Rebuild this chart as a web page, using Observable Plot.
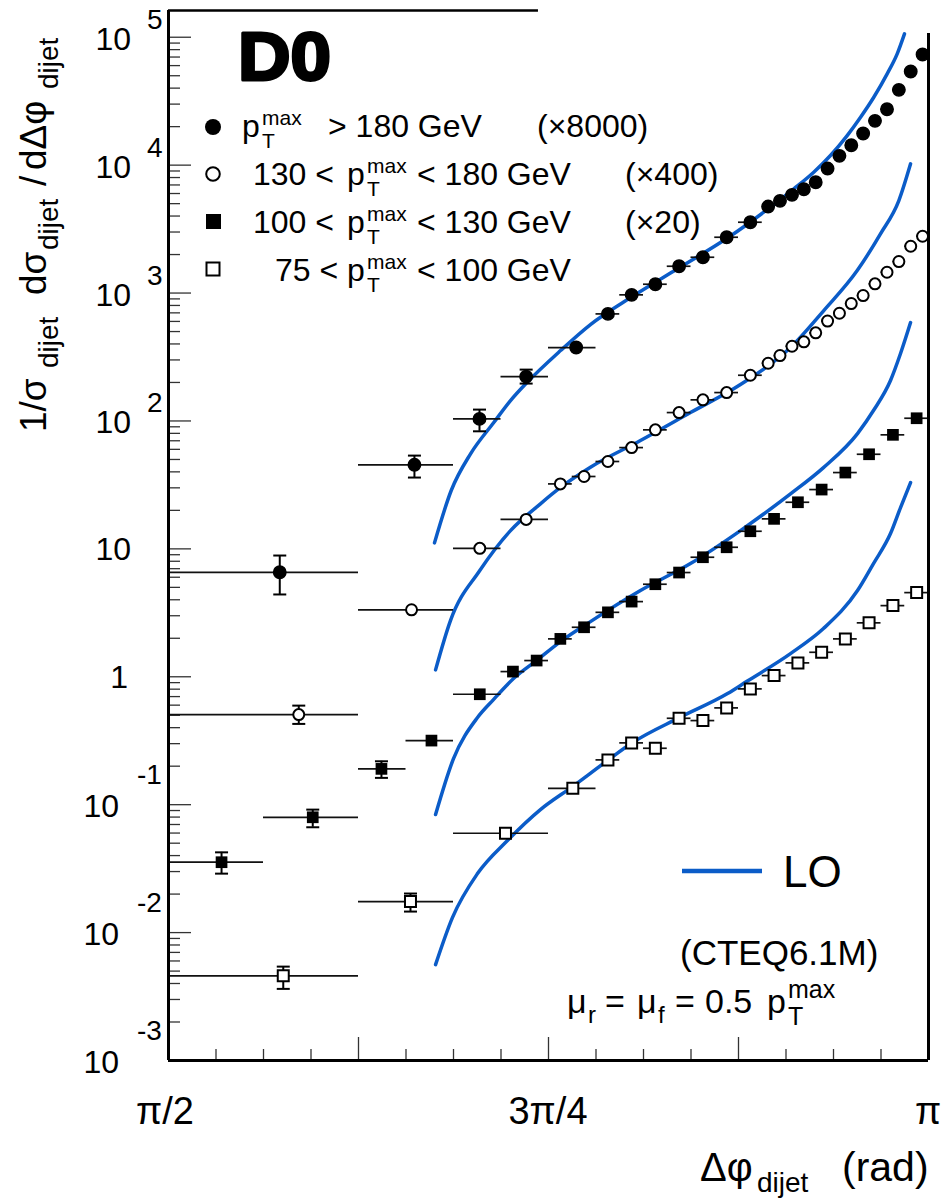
<!DOCTYPE html>
<html><head><meta charset="utf-8">
<script src="https://cdn.jsdelivr.net/npm/d3@7"></script>
<script src="https://cdn.jsdelivr.net/npm/@observablehq/plot@0.6"></script>
<style>body{margin:0;background:#fff}svg{display:block}</style>
</head><body><div id="chart"></div>
<script>
const PI = Math.PI;
// ---- Data (x positions and bin edges in units of pi) ----
// Series 1: pT > 180 GeV (x8000), filled circles
const s1Edges = [0.5,0.625,0.6875,0.71875,0.75,0.78125,0.796875,0.8125,0.828125,0.84375,0.859375,0.875,0.890625,0.8984375,0.90625,0.9140625,0.921875,0.9296875,0.9375,0.9453125,0.953125,0.9609375,0.96875,0.9765625,0.984375,0.9921875,1];
const s1X = [0.5732,0.6618,0.7046,0.7353,0.7682,0.7891,0.8047,0.8203,0.8359,0.8516,0.8672,0.8828,0.8945,0.9023,0.9102,0.9180,0.9258,0.9336,0.9414,0.9492,0.9570,0.9648,0.9727,0.9805,0.9883,0.9961];
const s1Y = [6.56,45.4,103.8,222,375,687,968,1172,1620,1905,2731,3578,4746,5259,5858,6480,7350,9406,11820,14310,17670,22200,27360,38790,53930,73230];
const s1Lo = [4.40,36.1,83.0,196];
const s1Hi = [8.87,53.6,122.7,252];
// Series 2: 130 < pT < 180 GeV (x400), open circles
const s2Edges = [0.5,0.625,0.6875,0.71875,0.75,0.765625,0.78125,0.796875,0.8125,0.828125,0.84375,0.859375,0.875,0.890625,0.8984375,0.90625,0.9140625,0.921875,0.9296875,0.9375,0.9453125,0.953125,0.9609375,0.96875,0.9765625,0.984375,0.9921875,1];
const s2X = [0.5857,0.6599,0.7048,0.7353,0.7578,0.7734,0.7891,0.8047,0.8203,0.8359,0.8516,0.8672,0.8828,0.8945,0.9023,0.9102,0.9180,0.9258,0.9336,0.9414,0.9492,0.9570,0.9648,0.9727,0.9805,0.9883,0.9961];
const s2Y = [0.506,3.34,10.1,17.0,32.2,36.8,48.2,61.9,85.2,116.3,146.2,166.7,227.7,282.6,324.6,383.7,415.3,488.5,604,695,828,956,1180,1454,1763,2322,2781];
const s2Lo = [0.428];
const s2Hi = [0.595];
// Series 3: 100 < pT < 130 GeV (x20), filled squares
const s3Edges = [0.5,0.5625,0.625,0.65625,0.6875,0.71875,0.734375,0.75,0.765625,0.78125,0.796875,0.8125,0.828125,0.84375,0.859375,0.875,0.890625,0.90625,0.921875,0.9375,0.953125,0.96875,0.984375,1];
const s3X = [0.5349,0.5949,0.6401,0.6730,0.7048,0.7266,0.7422,0.7578,0.7734,0.7891,0.8047,0.8203,0.8359,0.8516,0.8672,0.8828,0.8984,0.9141,0.9297,0.9453,0.9609,0.9766,0.9922];
const s3Y = [0.0355,0.0797,0.1905,0.317,0.730,1.098,1.339,1.978,2.438,3.19,3.87,5.29,6.53,8.60,10.29,13.73,17.16,23.14,29.08,39.5,54.9,77.9,105.0];
const s3Lo = [0.0289,0.0666,0.162];
const s3Hi = [0.0424,0.0915,0.2184];
// Series 4: 75 < pT < 100 GeV, open squares
const s4Edges = [0.5,0.625,0.6875,0.75,0.78125,0.796875,0.8125,0.828125,0.84375,0.859375,0.875,0.890625,0.90625,0.921875,0.9375,0.953125,0.96875,0.984375,1];
const s4X = [0.5755,0.6592,0.7217,0.7660,0.7891,0.8047,0.8203,0.8359,0.8516,0.8672,0.8828,0.8984,0.9141,0.9297,0.9453,0.9609,0.9766,0.9922];
const s4Y = [0.00459,0.01748,0.0598,0.1343,0.2240,0.3042,0.2761,0.4737,0.4545,0.5711,0.804,1.022,1.284,1.554,1.978,2.64,3.60,4.55];
const s4Lo = [0.00363,0.0146];
const s4Hi = [0.00542,0.0202];
// LO curves (x in units of pi)
const lo1X = [0.6750,0.6860,0.6987,0.7140,0.7250,0.7360,0.7579,0.7776,0.8051,0.8357,0.8682,0.8982,0.9114,0.9245,0.9355,0.9465,0.9553,0.9640,0.9728,0.9794,0.9842];
const lo1Y = [11.14,28.6,55.3,97.2,144.4,200.8,355,567,938.8,1569,2716,4919,6526,8802,11890,17030,23690,33950,51740,74180,106300];
const lo2X = [0.6757,0.6855,0.7048,0.7250,0.7447,0.7579,0.7776,0.8105,0.8434,0.8763,0.9092,0.9311,0.9531,0.9684,0.9805,0.9882];
const lo2Y = [1.132,2.75,6.77,13.9,22.5,30.2,43.5,70.3,116.3,192.6,374.9,729.8,1499,2904,5287,10240];
const lo3X = [0.6757,0.6875,0.7033,0.7138,0.7270,0.7421,0.7579,0.7776,0.8105,0.8434,0.8763,0.9092,0.9309,0.9533,0.9638,0.9750,0.9816,0.9882];
const lo3Y = [0.0837,0.229,0.480,0.663,0.968,1.339,1.884,2.70,4.72,7.67,13.9,26.9,43.2,79.7,120.6,207,336.5,588];
const lo4X = [0.6757,0.6868,0.7033,0.7230,0.7447,0.7658,0.7888,0.8053,0.8362,0.8678,0.8803,0.9092,0.9309,0.9533,0.9638,0.9750,0.9816,0.9882];
const lo4Y = [0.005622,0.01310,0.02893,0.0524,0.0915,0.1385,0.2212,0.3059,0.4797,0.739,0.917,1.518,2.382,4.72,7.67,13.17,21.03,33.0];
// Ticks / labels
const yMajor = [1e-3,1e-2,1e-1,1,10,1e2,1e3,1e4,1e5];
const yTickBase = ["10","10","10","1","10","10","10","10","10"];
const yTickExp = ["-3","-2","-1","","","2","3","4","5"];
const xMajorPi = [0.5,0.625,0.75,0.875,1];
const xLabelPi = [0.5,0.75,1];
const xLabels = ["π/2","3π/4","π"];

const FONT = "'Liberation Sans', Arial, Helvetica, sans-serif";
const BLUE = "#0b5cc8";

function build(xs, ys, edges) {
  return xs.map((f, i) => ({x: f * PI, y: ys[i], x1: edges[i] * PI, x2: edges[i + 1] * PI}));
}
function errs(xs, lo, hi) {
  return lo.map((l, i) => ({x: xs[i] * PI, lo: l, hi: hi[i]}));
}
const d1 = build(s1X, s1Y, s1Edges), d2 = build(s2X, s2Y, s2Edges),
      d3s = build(s3X, s3Y, s3Edges), d4 = build(s4X, s4Y, s4Edges);
const allPts = [...d1, ...d2, ...d3s, ...d4];
const allErr = [...errs(s1X, s1Lo, s1Hi), ...errs(s2X, s2Lo, s2Hi), ...errs(s3X, s3Lo, s3Hi), ...errs(s4X, s4Lo, s4Hi)];
const caps = allErr.flatMap(e => [{x: e.x, y: e.lo}, {x: e.x, y: e.hi}]);
const loData = [[lo1X, lo1Y, "a"], [lo2X, lo2Y, "b"], [lo3X, lo3Y, "c"], [lo4X, lo4Y, "d"]]
  .flatMap(([xs, ys, s]) => xs.map((f, i) => ({x: f * PI, y: ys[i], s})));

const yMinor = [];
for (const d of yMajor) for (let k = 2; k <= 9; k++) if (k * d < 1.6e5) yMinor.push(k * d);
const xMinor = [];
for (let k = 16; k <= 32; k++) if (k % 4 !== 0) xMinor.push(k * PI / 32);

const hbar = {draw(ctx, size) { const w = Math.sqrt(size / Math.PI); ctx.moveTo(-w, 0); ctx.lineTo(w, 0); }};
const noText = () => "";

const plot = Plot.plot({
  width: 942, height: 1199,
  marginLeft: 168, marginRight: 14, marginTop: 10, marginBottom: 139,
  style: {background: "white", fontFamily: FONT},
  x: {type: "linear", domain: [PI / 2, PI]},
  y: {type: "log", domain: [1e-3, 161800]},
  marks: [
    Plot.axisX(xMajorPi.map(f => f * PI), {tickSize: -23, tickFormat: noText, stroke: "#333", strokeWidth: 1.3, label: null}),
    Plot.axisX(xMinor, {tickSize: -11, tickFormat: noText, stroke: "#333", strokeWidth: 1.3, label: null}),
    Plot.axisY(yMajor, {tickSize: -23, tickFormat: noText, stroke: "#333", strokeWidth: 1.3, label: null}),
    Plot.axisY(yMinor, {tickSize: -12, tickFormat: noText, stroke: "#333", strokeWidth: 1.3, label: null}),
    Plot.line(loData, {x: "x", y: "y", z: "s", stroke: BLUE, strokeWidth: 3.5, curve: "monotone-x"}),
    Plot.ruleY(allPts, {x1: "x1", x2: "x2", y: "y", stroke: "#111", strokeWidth: 1.7}),
    Plot.ruleX(allErr, {x: "x", y1: "lo", y2: "hi", stroke: "#000", strokeWidth: 2}),
    Plot.dot(caps, {x: "x", y: "y", symbol: hbar, r: 6.5, fill: "none", stroke: "#000", strokeWidth: 2}),
    Plot.dot(d1, {x: "x", y: "y", symbol: "circle", r: 6.2, fill: "#000", stroke: "#000"}),
    Plot.dot(d2, {x: "x", y: "y", symbol: "circle", r: 5.5, fill: "#fff", stroke: "#000", strokeWidth: 2}),
    Plot.dot(d3s, {x: "x", y: "y", symbol: "square", r: 6.6, fill: "#000", stroke: "none"}),
    Plot.dot(d4, {x: "x", y: "y", symbol: "square", r: 6.2, fill: "#fff", stroke: "#000", strokeWidth: 2}),
    // frame
    Plot.ruleX([PI / 2], {stroke: "#000", strokeWidth: 3}),
    Plot.ruleY([1e-3], {stroke: "#000", strokeWidth: 3}),
    Plot.ruleX([PI], {y1: () => 107000, y2: () => 1e-3, stroke: "#000", strokeWidth: 3}),
    Plot.ruleY([161800], {x1: () => PI / 2, x2: () => 0.7434 * PI, stroke: "#000", strokeWidth: 2.5})
  ]
});

document.getElementById("chart").appendChild(plot);
const svg = d3.select(plot);
const xs = plot.scale("x"), ys = plot.scale("y");
const g = svg.append("g").attr("font-family", FONT).attr("fill", "#000").attr("text-anchor", "start");

function rich(x, y, segs, rotate = 0, anchor = "start", extra = {}) {
  const t = g.append("text").attr("transform", `translate(${x},${y}) rotate(${rotate})`).attr("text-anchor", anchor);
  for (const [k, v] of Object.entries(extra)) t.attr(k, v);
  segs.forEach(s => t.append("tspan").attr("x", s.x || 0).attr("y", s.y || 0).attr("font-size", s.size).text(s.t));
  return t;
}

// y tick labels
yMajor.forEach((v, i) => {
  const py = ys.apply(v);
  const e = yTickExp[i];
  if (e === "") {
    rich(0, py + 12, [{t: yTickBase[i], x: yTickBase[i] === "1" ? 128 : 131, size: 32}], 0, "end");
  } else if (e.startsWith("-")) {
    rich(0, py + 13, [{t: yTickBase[i], x: 119, size: 32}], 0, "end");
    rich(0, py - 20, [{t: e, x: 137, size: 28}]);
  } else {
    rich(0, py + 13, [{t: yTickBase[i], x: 131, size: 32}], 0, "end");
    rich(0, py - 8, [{t: e, x: 147, size: 28}]);
  }
});
// x tick labels
xLabelPi.forEach((f, i) => {
  rich(xs.apply(f * PI) - (i === 0 ? 3 : 0), 1124, [{t: xLabels[i], size: 38}], 0, "middle");
});
// axis titles
rich(0, 1181, [{t: "Δφ", x: 700, size: 40}, {t: "dijet", x: 757, y: 11, size: 28}, {t: "(rad)", x: 842, size: 41}]);
rich(46, 432, [
  {t: "1/σ", x: 0, size: 37}, {t: "dijet", x: 64, y: 12, size: 28},
  {t: "dσ", x: 137, size: 37}, {t: "dijet", x: 182, y: 12, size: 28},
  {t: "/", x: 246, size: 37}, {t: "dΔφ", x: 262, size: 37}, {t: "dijet", x: 343, y: 12, size: 28}
], -90);

// D0 logo
g.append("text").attr("transform", "translate(238,80) scale(1.07,1)").attr("text-anchor", "start")
  .attr("font-size", 68).attr("font-weight", "bold").attr("stroke", "#000").attr("stroke-width", 3)
  .attr("stroke-linejoin", "round").text("D0");

// legend markers
g.append("circle").attr("cx", 213).attr("cy", 127).attr("r", 8).attr("fill", "#000");
g.append("circle").attr("cx", 213).attr("cy", 174).attr("r", 6.8).attr("fill", "#fff").attr("stroke", "#000").attr("stroke-width", 2);
g.append("rect").attr("x", 206).attr("y", 214).attr("width", 15).attr("height", 15).attr("fill", "#000");
g.append("rect").attr("x", 206.5).attr("y", 262.5).attr("width", 13).attr("height", 13).attr("fill", "#fff").attr("stroke", "#000").attr("stroke-width", 2);
// legend texts
const S = 32, s = 21, UP = -12, DN = 11;
rich(0, 137, [{t: "p", x: 242, size: S}, {t: "max", x: 262, y: UP, size: s}, {t: "T", x: 262, y: DN, size: s}, {t: "> 180 GeV", x: 328, size: S}, {t: "(×8000)", x: 537, size: S}]);
rich(0, 185, [{t: "130 <", x: 253, size: S}, {t: "p", x: 347, size: S}, {t: "max", x: 367, y: UP, size: s}, {t: "T", x: 367, y: DN, size: s}, {t: "< 180 GeV", x: 417, size: S}, {t: "(×400)", x: 625, size: S}]);
rich(0, 233, [{t: "100 <", x: 253, size: S}, {t: "p", x: 347, size: S}, {t: "max", x: 367, y: UP, size: s}, {t: "T", x: 367, y: DN, size: s}, {t: "< 130 GeV", x: 417, size: S}, {t: "(×20)", x: 625, size: S}]);
rich(0, 281, [{t: "75 <", x: 275, size: S}, {t: "p", x: 347, size: S}, {t: "max", x: 367, y: UP, size: s}, {t: "T", x: 367, y: DN, size: s}, {t: "< 100 GeV", x: 417, size: S}]);

// LO legend
g.append("line").attr("x1", 682).attr("x2", 762).attr("y1", 871).attr("y2", 871).attr("stroke", BLUE).attr("stroke-width", 4.5);
rich(783, 887, [{t: "LO", size: 44}]);
rich(680, 965, [{t: "(CTEQ6.1M)", size: 35}]);
rich(0, 1013, [
  {t: "μ", x: 567, size: 34}, {t: "r", x: 588, y: 10, size: 24}, {t: "=", x: 605, size: 34},
  {t: "μ", x: 637, size: 34}, {t: "f", x: 658, y: 10, size: 24}, {t: "=", x: 675, size: 34},
  {t: "0.5", x: 705, size: 34}, {t: "p", x: 767, size: 34}, {t: "max", x: 788, y: -15, size: 25}, {t: "T", x: 788, y: 12, size: 25}
]);
</script>
</body></html>
